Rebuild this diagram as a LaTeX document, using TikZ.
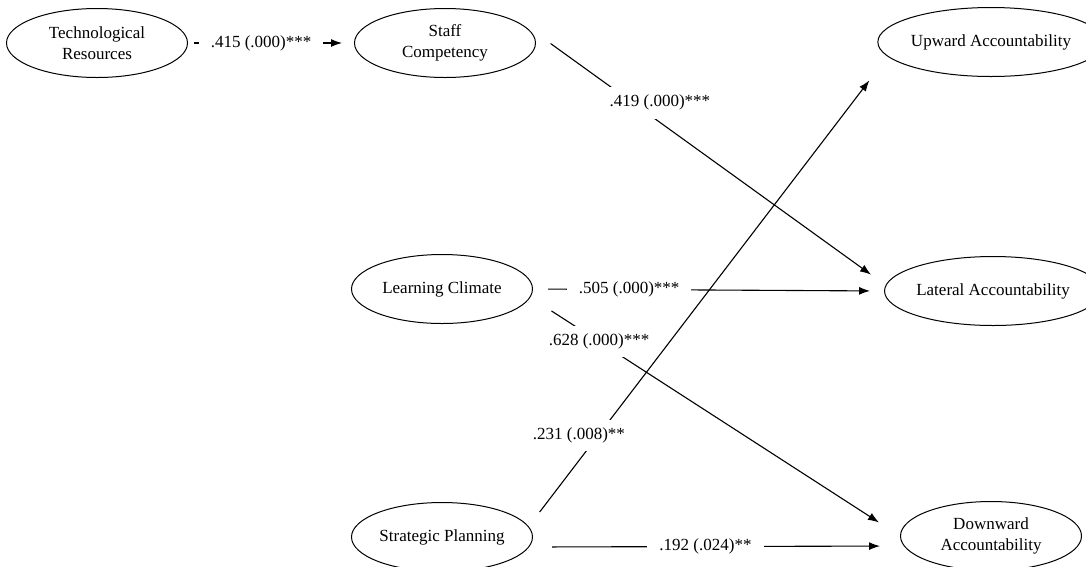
\documentclass[tikz,border=0pt]{standalone}
\usepackage{fontspec}
\setmainfont{Liberation Serif}
\usetikzlibrary{shapes.geometric,arrows.meta}
\begin{document}
\begin{tikzpicture}[x=1pt,y=-1pt]
    \tikzstyle{constructs}=[draw, ellipse, line width=1pt, minimum width=181pt, minimum height=69pt, inner sep=0pt, align=center, font=\fontsize{17pt}{21pt}\selectfont]
    \tikzstyle{paths}=[-{Latex[length=11pt,width=8pt]}, line width=1.1pt]
    \tikzstyle{coefs}=[fill=white, inner xsep=12pt, inner ysep=8pt, font=\fontsize{17pt}{21pt}\selectfont]
    \useasboundingbox (0,0) rectangle (1086,566);
    \node[constructs] (tech) at (97,43) {Technological\\Resources};
    \node[constructs] (staff) at (445,43) {Staff\\Competency};
    \node[constructs] (learn) at (442,289) {Learning Climate};
    \node[constructs] (strat) at (442,537) {Strategic Planning};
    \node[constructs] (upward) at (991,42) {Upward Accountability};
    \node[constructs] (lateral) at (993,291) {Lateral Accountability};
    \node[constructs] (down) at (991,536) {Downward\\Accountability};

    \draw[paths, shorten <=6pt, shorten >=12pt] (tech.east) --node[coefs, pos=0.44]{.415 (.000)***} (staff.west);
    \draw[paths, shorten <=18pt, shorten >=16pt] ([yshift=10pt]staff.east) --node[coefs, pos=0.29, xshift=23pt, yshift=3pt]{.419 (.000)***} ([yshift=7pt]lateral.west);
    \draw[paths, shorten <=15pt, shorten >=14pt] (learn.east) --node[coefs, pos=0.274]{.505 (.000)***} (lateral.west);
    \draw[paths, shorten <=22pt, shorten >=25pt] ([yshift=-10pt]learn.east) --node[coefs, pos=0.18]{.628 (.000)***} (down.west);
    \draw[paths, shorten <=18pt, shorten >=30pt] (strat.7) --node[coefs, pos=0.193, xshift=-19pt]{.231 (.008)**} (upward.188);
    \draw[paths, shorten <=19pt, shorten >=20pt] ([yshift=-10pt]strat.east) --node[coefs, pos=0.47]{.192 (.024)**} ([yshift=-10pt]down.west);
\end{tikzpicture}
\end{document}
